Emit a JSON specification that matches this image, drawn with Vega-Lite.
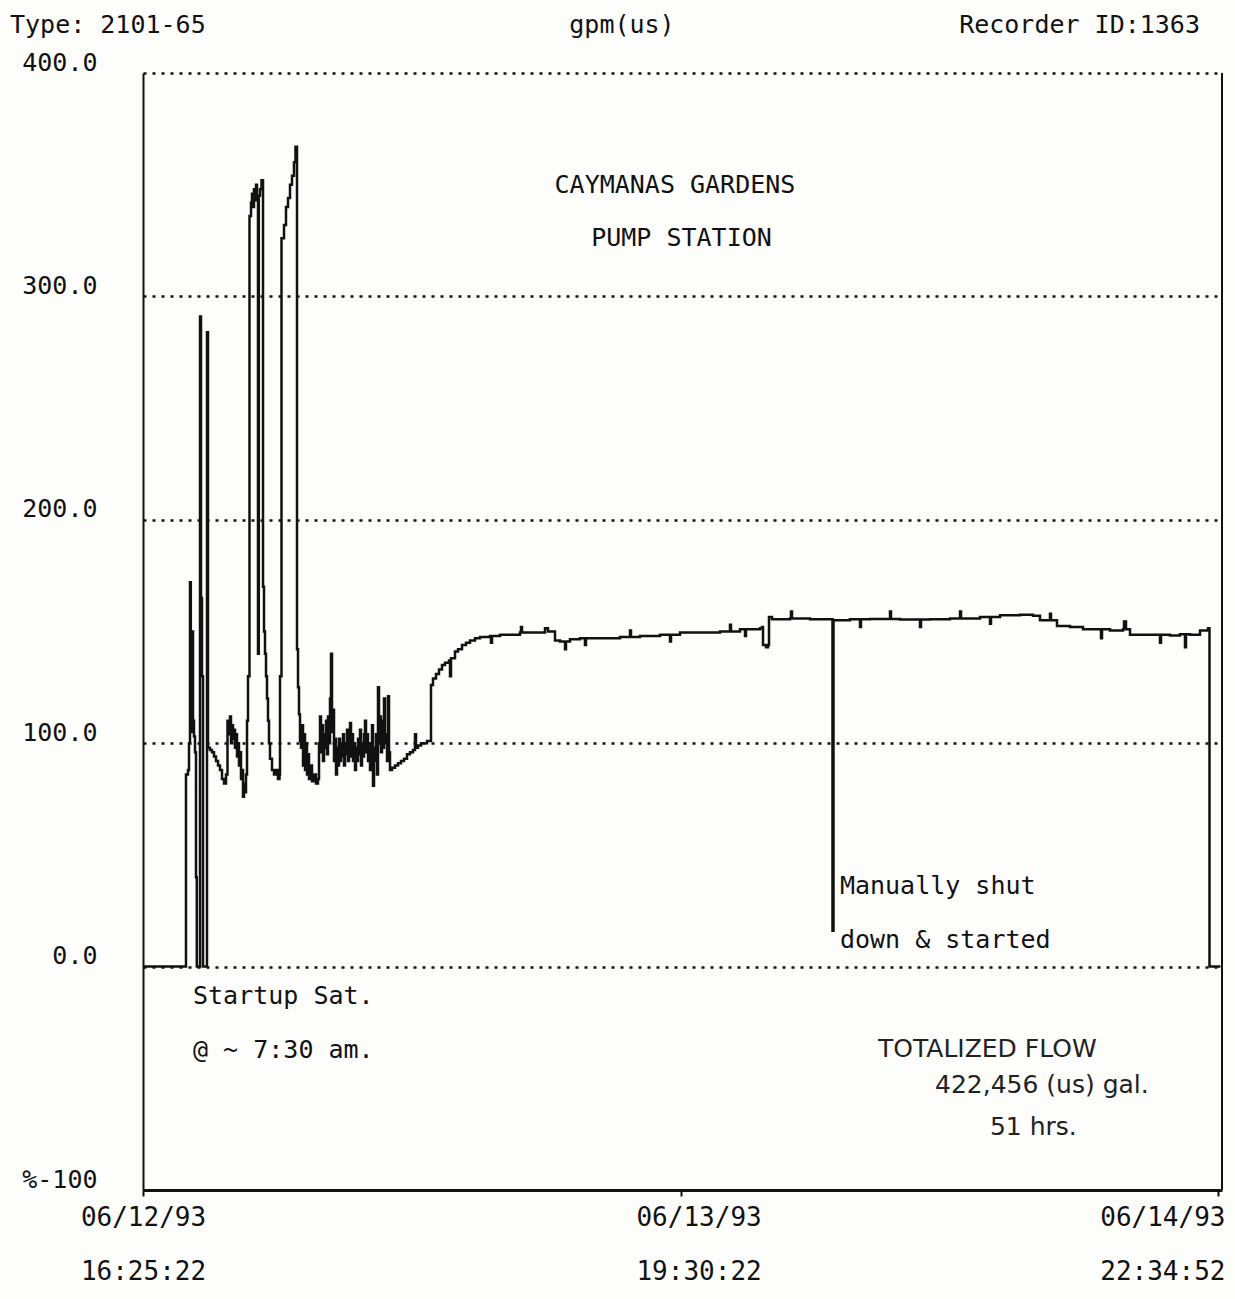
{
  "$schema": "https://vega.github.io/schema/vega-lite/v6.json",
  "width": 1079,
  "height": 1117,
  "autosize": {"type": "none"},
  "padding": {"left": 143, "top": 73, "right": 13, "bottom": 109},
  "background": "#fdfdfc",
  "config": {"view": {"stroke": null}, "font": "DejaVu Sans Mono"},
  "datasets": {
    "flow": [
      {"h":0,"v":0},{"h":2.141,"v":0},{"h":2.166,"v":86},{"h":2.267,"v":88},{"h":2.317,"v":100},{"h":2.368,"v":172},{"h":2.408,"v":120},{"h":2.443,"v":105},{"h":2.469,"v":150},{"h":2.519,"v":110},{"h":2.569,"v":103},{"h":2.620,"v":96},{"h":2.670,"v":40},{"h":2.710,"v":0},{"h":2.846,"v":0},{"h":2.872,"v":291},{"h":2.922,"v":165},{"h":2.972,"v":130},{"h":3.023,"v":0},{"h":3.199,"v":0},{"h":3.224,"v":284},{"h":3.275,"v":98},{"h":3.375,"v":97},{"h":3.476,"v":96},{"h":3.577,"v":94},{"h":3.678,"v":92},{"h":3.779,"v":90},{"h":3.879,"v":88},{"h":3.980,"v":84},{"h":4.081,"v":82},{"h":4.182,"v":86},{"h":4.257,"v":110},{"h":4.333,"v":104},{"h":4.383,"v":112},{"h":4.433,"v":100},{"h":4.484,"v":108},{"h":4.534,"v":102},{"h":4.585,"v":106},{"h":4.635,"v":98},{"h":4.685,"v":104},{"h":4.736,"v":94},{"h":4.786,"v":100},{"h":4.836,"v":90},{"h":4.887,"v":96},{"h":4.937,"v":84},{"h":4.988,"v":88},{"h":5.038,"v":76},{"h":5.088,"v":82},{"h":5.139,"v":78},{"h":5.189,"v":86},{"h":5.240,"v":110},{"h":5.290,"v":130},{"h":5.365,"v":336},{"h":5.441,"v":342},{"h":5.491,"v":346},{"h":5.542,"v":340},{"h":5.592,"v":348},{"h":5.643,"v":343},{"h":5.693,"v":350},{"h":5.743,"v":345},{"h":5.794,"v":140},{"h":5.834,"v":345},{"h":5.894,"v":348},{"h":5.970,"v":352},{"h":6.046,"v":170},{"h":6.096,"v":150},{"h":6.146,"v":140},{"h":6.197,"v":130},{"h":6.247,"v":120},{"h":6.298,"v":110},{"h":6.348,"v":100},{"h":6.398,"v":93},{"h":6.499,"v":88},{"h":6.600,"v":86},{"h":6.701,"v":88},{"h":6.801,"v":84},{"h":6.877,"v":86},{"h":6.902,"v":130},{"h":6.978,"v":326},{"h":7.104,"v":332},{"h":7.204,"v":340},{"h":7.305,"v":344},{"h":7.406,"v":350},{"h":7.507,"v":354},{"h":7.607,"v":360},{"h":7.683,"v":367},{"h":7.759,"v":142},{"h":7.809,"v":125},{"h":7.859,"v":113},{"h":7.910,"v":101},{"h":7.960,"v":98},{"h":8.010,"v":108},{"h":8.061,"v":90},{"h":8.111,"v":104},{"h":8.162,"v":88},{"h":8.212,"v":100},{"h":8.262,"v":86},{"h":8.313,"v":95},{"h":8.363,"v":84},{"h":8.413,"v":90},{"h":8.514,"v":83},{"h":8.615,"v":86},{"h":8.716,"v":82},{"h":8.816,"v":84},{"h":8.867,"v":100},{"h":8.917,"v":112},{"h":8.967,"v":96},{"h":9.018,"v":108},{"h":9.068,"v":92},{"h":9.119,"v":104},{"h":9.169,"v":98},{"h":9.220,"v":110},{"h":9.270,"v":95},{"h":9.320,"v":112},{"h":9.371,"v":100},{"h":9.421,"v":120},{"h":9.471,"v":140},{"h":9.522,"v":105},{"h":9.572,"v":115},{"h":9.623,"v":92},{"h":9.673,"v":102},{"h":9.723,"v":86},{"h":9.774,"v":98},{"h":9.824,"v":90},{"h":9.874,"v":102},{"h":9.925,"v":92},{"h":9.975,"v":100},{"h":10.026,"v":94},{"h":10.076,"v":104},{"h":10.126,"v":90},{"h":10.177,"v":100},{"h":10.227,"v":95},{"h":10.278,"v":106},{"h":10.328,"v":92},{"h":10.378,"v":102},{"h":10.429,"v":109},{"h":10.479,"v":94},{"h":10.529,"v":104},{"h":10.580,"v":92},{"h":10.630,"v":100},{"h":10.681,"v":88},{"h":10.731,"v":98},{"h":10.781,"v":92},{"h":10.832,"v":102},{"h":10.882,"v":95},{"h":10.932,"v":106},{"h":10.983,"v":90},{"h":11.033,"v":100},{"h":11.084,"v":94},{"h":11.134,"v":104},{"h":11.184,"v":110},{"h":11.235,"v":96},{"h":11.285,"v":104},{"h":11.336,"v":92},{"h":11.386,"v":100},{"h":11.436,"v":88},{"h":11.487,"v":98},{"h":11.537,"v":108},{"h":11.587,"v":81},{"h":11.638,"v":98},{"h":11.688,"v":92},{"h":11.739,"v":104},{"h":11.789,"v":86},{"h":11.839,"v":125},{"h":11.890,"v":100},{"h":11.940,"v":112},{"h":11.990,"v":96},{"h":12.041,"v":110},{"h":12.091,"v":98},{"h":12.142,"v":120},{"h":12.192,"v":104},{"h":12.242,"v":100},{"h":12.293,"v":92},{"h":12.343,"v":121},{"h":12.394,"v":96},{"h":12.444,"v":88},{"h":12.545,"v":89},{"h":12.696,"v":90},{"h":12.847,"v":91},{"h":12.998,"v":92},{"h":13.149,"v":93},{"h":13.300,"v":95},{"h":13.451,"v":96},{"h":13.603,"v":97},{"h":13.703,"v":104},{"h":13.754,"v":98},{"h":13.854,"v":99},{"h":14.006,"v":100},{"h":14.157,"v":100},{"h":14.308,"v":101},{"h":14.459,"v":101},{"h":14.509,"v":126},{"h":14.610,"v":129},{"h":14.761,"v":131},{"h":14.912,"v":133},{"h":15.064,"v":135},{"h":15.215,"v":136},{"h":15.416,"v":137},{"h":15.467,"v":130},{"h":15.517,"v":138},{"h":15.719,"v":141},{"h":15.870,"v":142},{"h":16.071,"v":144},{"h":16.273,"v":145},{"h":16.474,"v":146},{"h":16.726,"v":147},{"h":16.978,"v":147.5},{"h":17.482,"v":148},{"h":17.532,"v":145},{"h":17.583,"v":148},{"h":17.986,"v":148.5},{"h":18.993,"v":149.5},{"h":19.043,"v":152},{"h":19.094,"v":149.5},{"h":20.001,"v":149.5},{"h":20.253,"v":151.5},{"h":20.404,"v":150},{"h":20.757,"v":146},{"h":21.008,"v":145.5},{"h":21.260,"v":142},{"h":21.310,"v":145.5},{"h":21.512,"v":146.5},{"h":22.016,"v":147},{"h":22.267,"v":144},{"h":22.318,"v":147},{"h":23.024,"v":147},{"h":24.031,"v":147.5},{"h":24.535,"v":150.5},{"h":24.585,"v":147.5},{"h":25.039,"v":148},{"h":26.046,"v":148.5},{"h":26.550,"v":145.5},{"h":26.600,"v":148.5},{"h":27.054,"v":149.5},{"h":28.062,"v":149.5},{"h":29.069,"v":150},{"h":29.573,"v":153},{"h":29.623,"v":150},{"h":30.077,"v":151},{"h":30.329,"v":148},{"h":30.379,"v":151},{"h":31.084,"v":151.5},{"h":31.185,"v":152},{"h":31.236,"v":144},{"h":31.387,"v":143},{"h":31.488,"v":144},{"h":31.538,"v":156.5},{"h":31.689,"v":155.5},{"h":32.596,"v":155.8},{"h":32.646,"v":159},{"h":32.697,"v":155.8},{"h":33.603,"v":155.5},{"h":34.712,"v":155.5},{"h":34.737,"v":16},{"h":34.787,"v":155},{"h":35.618,"v":155.5},{"h":36.122,"v":152},{"h":36.172,"v":155.5},{"h":36.626,"v":155.6},{"h":37.634,"v":159},{"h":37.684,"v":155.6},{"h":38.138,"v":155.4},{"h":39.145,"v":152},{"h":39.196,"v":155.4},{"h":39.649,"v":155.5},{"h":40.657,"v":155.8},{"h":41.161,"v":159},{"h":41.211,"v":155.8},{"h":42.168,"v":156.5},{"h":42.672,"v":153.5},{"h":42.722,"v":156.5},{"h":43.176,"v":157.3},{"h":44.183,"v":157.5},{"h":44.838,"v":157},{"h":45.191,"v":155},{"h":45.695,"v":158},{"h":45.745,"v":155},{"h":46.047,"v":152.5},{"h":46.702,"v":152},{"h":47.357,"v":151},{"h":48.214,"v":151},{"h":48.264,"v":147},{"h":48.315,"v":151},{"h":48.717,"v":150.5},{"h":49.372,"v":151},{"h":49.423,"v":154.5},{"h":49.524,"v":151},{"h":49.725,"v":148.6},{"h":50.733,"v":148.6},{"h":51.237,"v":145},{"h":51.288,"v":148.6},{"h":51.740,"v":148.2},{"h":52.244,"v":148.8},{"h":52.496,"v":143},{"h":52.546,"v":148.8},{"h":52.748,"v":148.5},{"h":53.252,"v":150.5},{"h":53.655,"v":151.5},{"h":53.730,"v":0},{"h":54.283,"v":0}
    ],
    "leftNotes": [
      {"h":-6.70,"v":421.5,"label":"Type: 2101-65"},
      {"h":35.11,"v":36.3,"label":"Manually shut"},
      {"h":35.11,"v":12.1,"label":"down & started"},
      {"h":2.52,"v":-13.0,"label":"Startup Sat."},
      {"h":2.52,"v":-37.2,"label":"@ ~ 7:30 am."}
    ],
    "centerNotes": [
      {"h":24.13,"v":421.5,"label":"gpm(us)"},
      {"h":26.80,"v":350.0,"label":"CAYMANAS GARDENS"},
      {"h":27.13,"v":326.3,"label":"PUMP  STATION"}
    ],
    "rightNotes": [
      {"h":53.25,"v":421.5,"label":"Recorder ID:1363"}
    ],
    "handNotes": [
      {"h":37.03,"v":-36.7,"label":"TOTALIZED FLOW"},
      {"h":39.90,"v":-52.8,"label":"422,456 (us) gal."},
      {"h":42.67,"v":-71.6,"label":"51 hrs."}
    ],
    "frame": [
      {"h": 54.36}
    ]
  },
  "layer": [
    {
      "data": {"name": "flow"},
      "mark": {"type": "line", "interpolate": "step-after", "stroke": "#111", "strokeWidth": 2.5, "clip": false},
      "encoding": {
        "x": {
          "field": "h", "type": "quantitative", "title": null,
          "scale": {"domain": [0, 54.36], "nice": false, "zero": false},
          "axis": {
            "values": [0, 27.083, 54.158],
            "labelExpr": "datum.value < 1 ? ['06/12/93','16:25:22'] : datum.value < 40 ? ['06/13/93','19:30:22'] : ['06/14/93','22:34:52']",
            "grid": false,
            "domainColor": "#111", "domainWidth": 3,
            "tickColor": "#111", "tickSize": 6, "tickWidth": 2,
            "labelFont": "DejaVu Sans Mono", "labelFontSize": 26, "labelColor": "#111",
            "labelLineHeight": 54, "labelBaseline": "top", "labelPadding": 8,
            "labelAlign": {"condition": {"test": "datum.value > 40", "value": "right"}, "value": "center"},
            "labelOffset": {"condition": [{"test": "datum.value > 40", "value": 7}, {"test": "datum.value > 20", "value": 18}], "value": 0},
            "labelFlush": false, "labelOverlap": false, "labelBound": false
          }
        },
        "y": {
          "field": "v", "type": "quantitative", "title": null,
          "scale": {"domain": [-100, 400], "nice": false, "zero": false},
          "axis": {
            "values": [-100, 0, 100, 200, 300, 400],
            "labelExpr": "datum.value == -100 ? '%-100' : format(datum.value, '.1f')",
            "grid": true, "gridDash": [3, 6], "gridColor": "#111", "gridWidth": 2.5, "gridOpacity": 1,
            "ticks": false,
            "domainColor": "#111", "domainWidth": 2,
            "labelFont": "DejaVu Sans Mono", "labelFontSize": 25, "labelColor": "#111",
            "labelPadding": 46, "labelOffset": -11, "labelBaseline": "middle"
          }
        }
      }
    },
    {
      "data": {"name": "frame"},
      "mark": {"type": "rule", "stroke": "#111", "strokeWidth": 2},
      "encoding": {
        "x": {"field": "h", "type": "quantitative", "title": null, "scale": {"domain": [0, 54.36], "nice": false, "zero": false}}
      }
    },
    {
      "data": {"name": "leftNotes"},
      "mark": {"type": "text", "align": "left", "baseline": "middle", "font": "DejaVu Sans Mono", "fontSize": 25, "color": "#111"},
      "encoding": {
        "x": {"field": "h", "type": "quantitative", "title": null, "scale": {"domain": [0, 54.36], "nice": false, "zero": false}},
        "y": {"field": "v", "type": "quantitative", "title": null, "scale": {"domain": [-100, 400], "nice": false, "zero": false}},
        "text": {"field": "label"}
      }
    },
    {
      "data": {"name": "centerNotes"},
      "mark": {"type": "text", "align": "center", "baseline": "middle", "font": "DejaVu Sans Mono", "fontSize": 25, "color": "#111"},
      "encoding": {
        "x": {"field": "h", "type": "quantitative", "title": null, "scale": {"domain": [0, 54.36], "nice": false, "zero": false}},
        "y": {"field": "v", "type": "quantitative", "title": null, "scale": {"domain": [-100, 400], "nice": false, "zero": false}},
        "text": {"field": "label"}
      }
    },
    {
      "data": {"name": "rightNotes"},
      "mark": {"type": "text", "align": "right", "baseline": "middle", "font": "DejaVu Sans Mono", "fontSize": 25, "color": "#111"},
      "encoding": {
        "x": {"field": "h", "type": "quantitative", "title": null, "scale": {"domain": [0, 54.36], "nice": false, "zero": false}},
        "y": {"field": "v", "type": "quantitative", "title": null, "scale": {"domain": [-100, 400], "nice": false, "zero": false}},
        "text": {"field": "label"}
      }
    },
    {
      "data": {"name": "handNotes"},
      "mark": {"type": "text", "align": "left", "baseline": "middle", "font": "DejaVu Sans", "fontSize": 25, "color": "#222"},
      "encoding": {
        "x": {"field": "h", "type": "quantitative", "title": null, "scale": {"domain": [0, 54.36], "nice": false, "zero": false}},
        "y": {"field": "v", "type": "quantitative", "title": null, "scale": {"domain": [-100, 400], "nice": false, "zero": false}},
        "text": {"field": "label"}
      }
    }
  ]
}
